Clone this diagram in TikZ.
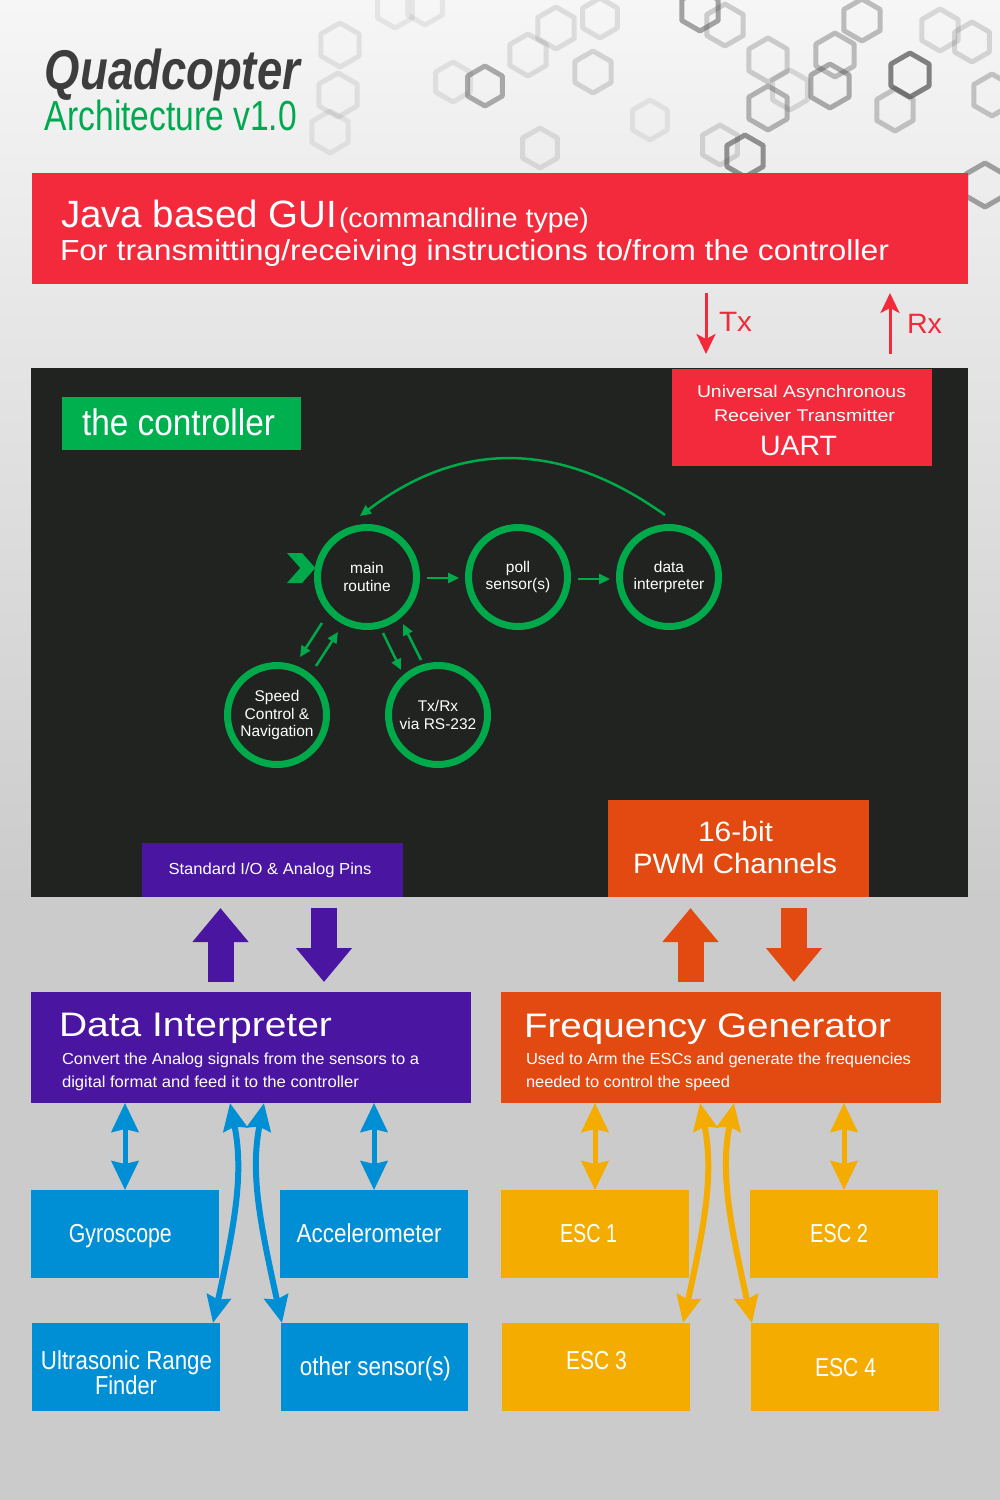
\documentclass[tikz,border=0pt]{standalone}
\usepackage{fontspec}
\usepackage{graphicx}
\setmainfont{Liberation Sans}
\usetikzlibrary{arrows.meta,calc}

\definecolor{bgtop}{HTML}{F6F6F6}
\definecolor{bgmid}{HTML}{E4E4E4}
\definecolor{bgbot}{HTML}{CBCBCB}
\definecolor{cred}{HTML}{F32A3C}
\definecolor{cdark}{HTML}{202320}
\definecolor{cgreen}{HTML}{00AA4A}
\definecolor{lgreen}{HTML}{00B04F}
\definecolor{cpurple}{HTML}{4A15A0}
\definecolor{corange}{HTML}{E34A12}
\definecolor{cblue}{HTML}{008FD5}
\definecolor{cyellow}{HTML}{F4AC00}
\definecolor{ctitle}{HTML}{3D3D3D}
\definecolor{ctgreen}{HTML}{00A94F}
\definecolor{hexgray}{HTML}{505050}

% set a text to a given width, keeping its height
\newcommand{\fitw}[2]{\resizebox{#1pt}{\height}{#2}}
\newcommand{\fs}[1]{\fontsize{#1}{#1}\selectfont}

\tikzset{
  panel/.style={anchor=north west, inner sep=0pt, outer sep=0pt, draw=none},
  lbl/.style={inner sep=0pt, outer sep=0pt, text=white},
  state/.style={circle, draw=cgreen, line width=7pt, minimum size=99pt,
    inner sep=0pt, align=center, text=white,
    font=\fontsize{15.5}{17.6}\selectfont},
  garrow/.style={draw=cgreen, line width=2.5pt,
    -{Triangle[length=11pt,width=10pt]}},
  redarrow/.style={draw=cred, line width=3pt,
    -{Stealth[length=20pt,width=19pt,inset=5pt]}},
  bigarrow/.style={line width=26pt,
    -{Triangle[length=34pt,width=54pt]}},
  duplex/.style={line width=5pt,
    {Stealth[length=29pt,width=27pt,inset=3pt]}-{Stealth[length=29pt,width=27pt,inset=3pt]}},
  bentduplex/.style={line width=6pt,
    {Stealth[length=27pt,width=24pt,inset=3pt]}-{Stealth[length=27pt,width=24pt,inset=3pt]}},
  hexline/.style={draw=hexgray, line width=5pt, line join=round},
}

\begin{document}
\begin{tikzpicture}[x=1pt,y=-1pt]
\useasboundingbox (0,0) rectangle (1000,1500);

% backdrop
\shade[top color=bgtop, bottom color=bgmid] (0,0) rectangle (1000,368);
\shade[top color=bgmid, bottom color=bgbot] (0,368) rectangle (1000,900);
\fill[bgbot] (0,900) rectangle (1000,1500);

% hexagon pattern in the header
\foreach \hx/\hy/\hr/\ho in {
  340/45/22/0.12, 338/95/22/0.12, 330/132/21/0.10, 395/8/20/0.10, 425/5/20/0.10,
  453/82/20/0.12, 485/86/20/0.45, 528/55/21/0.15, 540/148/20/0.15,
  556/28/21/0.15, 593/72/21/0.20, 600/18/20/0.15, 650/120/20/0.10,
  700/10/21/0.50, 725/25/21/0.25, 768/60/22/0.25, 768/108/22/0.40,
  720/145/20/0.20, 745/156/21/0.60, 790/90/20/0.18, 830/86/22/0.45,
  835/55/22/0.35, 862/20/21/0.35, 910/75/22/0.70, 895/110/21/0.30,
  940/30/21/0.18, 972/42/20/0.20, 992/95/21/0.30, 985/185/22/0.50}
{
  \draw[hexline, opacity=\ho, shift={(\hx,\hy)}]
    (90:\hr) -- (150:\hr) -- (210:\hr) -- (270:\hr) -- (330:\hr) -- (30:\hr) -- cycle;
}

% title
\node[lbl, anchor=base west, text=ctitle] (title) at (45,89)
  {\fs{56}\bfseries\itshape\fitw{255}{Quadcopter}};
\node[lbl, anchor=base west, text=ctgreen] (version) at (45,130)
  {\fs{42}\fitw{252}{Architecture v1.0}};

% GUI banner
\node[panel, fill=cred, minimum width=936pt, minimum height=111pt] (gui) at (32,173) {};
\node[lbl, anchor=base west] (guititle) at (61,227) {\fs{38}\fitw{276}{Java based GUI}};
\node[lbl, anchor=base west] (guitype) at (339,227) {\fs{27}\fitw{250}{(commandline type)}};
\node[lbl, anchor=base west] (guidesc) at (60,260)
  {\fs{29}\fitw{829}{For transmitting/receiving instructions to/from the controller}};

% controller board
\node[panel, fill=cdark, minimum width=937pt, minimum height=529pt] (ctrl) at (31,368) {};
\node[panel, fill=lgreen, minimum width=239pt, minimum height=53pt] (ctrltag) at (62,397) {};
\node[lbl, anchor=base west] (ctrltext) at (82,435) {\fs{37}\fitw{193}{the controller}};

\node[panel, fill=cred, minimum width=260pt, minimum height=97pt] (uart) at (672,369) {};
\node[lbl, anchor=base] (uart1) at (801.5,397) {\fs{17}\fitw{209}{Universal Asynchronous}};
\node[lbl, anchor=base] (uart2) at (804.5,421) {\fs{17}\fitw{181}{Receiver Transmitter}};
\node[lbl, anchor=base] (uart3) at (798.5,455) {\fs{28}\fitw{77}{UART}};

% serial lines between GUI and UART
\draw[redarrow] ($(gui.south west)+(674,9)$) -- ($(uart.north west)+(34,-15)$);
\draw[redarrow] ($(uart.north west)+(218,-15)$) -- ($(gui.south west)+(858,9)$);
\node[lbl, anchor=base west, text=cred] (tx) at (719,331) {\fs{28}\fitw{33}{Tx}};
\node[lbl, anchor=base west, text=cred] (rx) at (907,333) {\fs{28}\fitw{35}{Rx}};

% program flow
\node[state] (main) at (367,577) {main\\routine};
\node[state] (poll) at (518,577) {poll\\sensor(s)};
\node[state] (interp) at (669,577) {data\\interpreter};
\node[state] (speed) at (277,715) {Speed\\Control \&\\Navigation};
\node[state] (txrx) at (438,715) {Tx/Rx\\via RS-232};

\fill[cgreen] ($(main.west)+(-27,-24)$) -- ++(15,0) -- ++(13.3,15) -- ++(-13.3,15)
  -- ++(-15,0) -- ++(13.3,-15) -- cycle;

\draw[garrow] ($(main.east)+(7,1)$) -- ($(poll.west)+(-6,1)$);
\draw[garrow] ($(poll.east)+(7,2)$) -- ($(interp.west)+(-6,2)$);
\draw[garrow] ($(interp)+(-4,-62)$) .. controls (560,440) and (460,440) .. ($(main)+(-7,-61)$);
\draw[garrow] ($(main)+(-45,46)$) -- ($(speed)+(23,-58)$);
\draw[garrow] ($(speed)+(39,-49)$) -- ($(main)+(-29,55)$);
\draw[garrow] ($(main)+(16,56)$) -- ($(txrx)+(-37,-45)$);
\draw[garrow] ($(txrx)+(-17,-55)$) -- ($(main)+(36,47)$);

% controller ports
\node[panel, fill=cpurple, minimum width=261pt, minimum height=54pt] (stdio) at (142,843) {};
\node[lbl, anchor=base] (stdiotext) at (270,874) {\fs{16}\fitw{203}{Standard I/O \& Analog Pins}};
\node[panel, fill=corange, minimum width=261pt, minimum height=97pt] (pwm) at (608,800) {};
\node[lbl, anchor=base] (pwm1) at (735.5,841) {\fs{28}\fitw{75}{16-bit}};
\node[lbl, anchor=base] (pwm2) at (735,873) {\fs{28}\fitw{204}{PWM Channels}};

% peripheral blocks
\node[panel, fill=cpurple, minimum width=440pt, minimum height=111pt] (di) at (31,992) {};
\node[lbl, anchor=base west] (dititle) at (59,1036) {\fs{34}\fitw{273}{Data Interpreter}};
\node[lbl, anchor=base west] (didesc1) at (62,1064)
  {\fs{16}\fitw{357}{Convert the Analog signals from the sensors to a}};
\node[lbl, anchor=base west] (didesc2) at (62,1087)
  {\fs{16}\fitw{297}{digital format and feed it to the controller}};

\node[panel, fill=corange, minimum width=440pt, minimum height=111pt] (fg) at (501,992) {};
\node[lbl, anchor=base west] (fgtitle) at (524,1037) {\fs{34}\fitw{367}{Frequency Generator}};
\node[lbl, anchor=base west] (fgdesc1) at (526,1064)
  {\fs{16}\fitw{385}{Used to Arm the ESCs and generate the frequencies}};
\node[lbl, anchor=base west] (fgdesc2) at (526,1087)
  {\fs{16}\fitw{204}{needed to control the speed}};

% data paths to the ports
\draw[bigarrow, cpurple] ($(di.north west)+(189.5,-10)$) -- ($(stdio.south west)+(78.5,11)$);
\draw[bigarrow, cpurple] ($(stdio.south west)+(182,11)$) -- ($(di.north west)+(293,-10)$);
\draw[bigarrow, corange] ($(fg.north west)+(189.5,-10)$) -- ($(pwm.south west)+(82.5,11)$);
\draw[bigarrow, corange] ($(pwm.south west)+(186,11)$) -- ($(fg.north west)+(293,-10)$);

% sensors
\node[panel, fill=cblue, minimum width=188pt, minimum height=88pt] (gyro) at (31,1190) {};
\node[panel, fill=cblue, minimum width=188pt, minimum height=88pt] (accel) at (280,1190) {};
\node[panel, fill=cblue, minimum width=188pt, minimum height=88pt] (ultra) at (32,1323) {};
\node[panel, fill=cblue, minimum width=187pt, minimum height=88pt] (other) at (281,1323) {};
\node[lbl, anchor=base] (gyrotext) at (120.3,1242) {\fs{26}\fitw{103}{Gyroscope}};
\node[lbl, anchor=base] (acceltext) at (369.2,1242) {\fs{26}\fitw{145}{Accelerometer}};
\node[lbl, anchor=base] (ultratext1) at (126.5,1369) {\fs{26}\fitw{171}{Ultrasonic Range}};
\node[lbl, anchor=base] (ultratext2) at (126,1394) {\fs{26}\fitw{62}{Finder}};
\node[lbl, anchor=base] (othertext) at (375.5,1375) {\fs{26}\fitw{151}{other sensor(s)}};

% speed controllers
\node[panel, fill=cyellow, minimum width=188pt, minimum height=88pt] (esc1) at (501,1190) {};
\node[panel, fill=cyellow, minimum width=188pt, minimum height=88pt] (esc2) at (750,1190) {};
\node[panel, fill=cyellow, minimum width=188pt, minimum height=88pt] (esc3) at (502,1323) {};
\node[panel, fill=cyellow, minimum width=188pt, minimum height=88pt] (esc4) at (751,1323) {};
\node[lbl, anchor=base] (esc1text) at (588.5,1242) {\fs{26}\fitw{57}{ESC 1}};
\node[lbl, anchor=base] (esc2text) at (839,1242) {\fs{26}\fitw{58}{ESC 2}};
\node[lbl, anchor=base] (esc3text) at (596.5,1369) {\fs{26}\fitw{61}{ESC 3}};
\node[lbl, anchor=base] (esc4text) at (845.5,1376) {\fs{26}\fitw{61}{ESC 4}};

% sensor links
\draw[duplex, cblue] ($(di.south west)+(94,0)$) -- ($(gyro.north west)+(94,0)$);
\draw[duplex, cblue] ($(di.south west)+(343,0)$) -- ($(accel.north west)+(94,0)$);
\draw[bentduplex, cblue] ($(di.south west)+(199,0)$) .. controls +(14,70) and +(22,-100) .. ($(ultra.north east)+(-7,0)$);
\draw[bentduplex, cblue] ($(di.south west)+(233,0)$) .. controls +(-14,70) and +(-22,-100) .. ($(other.north west)+(1,0)$);

% ESC links
\draw[duplex, cyellow] ($(fg.south west)+(94,0)$) -- ($(esc1.north west)+(94,0)$);
\draw[duplex, cyellow] ($(fg.south west)+(343,0)$) -- ($(esc2.north west)+(94,0)$);
\draw[bentduplex, cyellow] ($(fg.south west)+(199,0)$) .. controls +(14,70) and +(22,-100) .. ($(esc3.north east)+(-7,0)$);
\draw[bentduplex, cyellow] ($(fg.south west)+(233,0)$) .. controls +(-14,70) and +(-22,-100) .. ($(esc4.north west)+(1,0)$);
\end{tikzpicture}
\end{document}
